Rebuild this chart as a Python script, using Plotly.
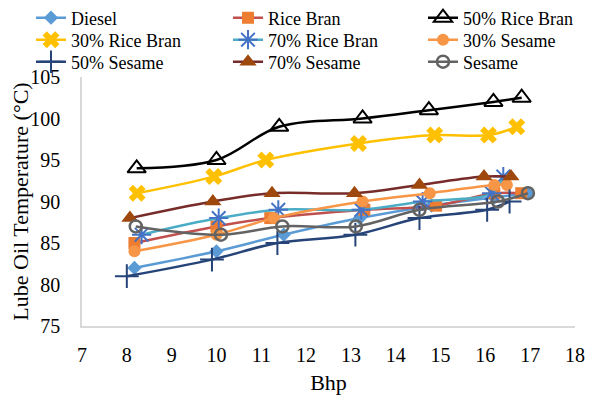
import plotly.graph_objects as go

names = ["Diesel", "Rice Bran", "50% Rice Bran", "30% Rice Bran", "70% Rice Bran",
         "30% Sesame", "50% Sesame", "70% Sesame", "Sesame"]

x_diesel = [8.17, 10.0, 11.5, 13.2, 14.8, 16.2, 16.95]
y_diesel = [82, 84, 86, 88, 89.5, 90.5, 91]

x_rb = [8.17, 10.0, 11.2, 13.3, 14.9, 16.2, 16.8]
y_rb = [85, 87, 88, 89, 89.5, 91, 91]

x_rb50 = [8.22, 10.0, 11.4, 13.26, 14.74, 16.18, 16.81]
y_rb50 = [94, 95, 99, 100, 101, 102, 102.5]

x_rb30 = [8.23, 9.94, 11.1, 13.17, 14.87, 16.07, 16.7]
y_rb30 = [91, 93, 95, 97, 98, 98, 99]

x_rb70 = [8.33, 10.05, 11.38, 13.23, 14.6, 16.14, 16.4]
y_rb70 = [86, 88, 89, 89, 90, 91, 93]

x_s30 = [8.17, 10.0, 11.28, 13.26, 14.76, 16.2, 16.48]
y_s30 = [84, 86, 88, 90, 91, 92, 92]

x_s50 = [8.0, 9.9, 11.36, 13.1, 14.53, 16.04, 16.54]
y_s50 = [81, 83, 85, 86, 88, 89, 90]

x_s70 = [8.07, 9.92, 11.24, 13.08, 14.53, 15.97, 16.57]
y_s70 = [88, 90, 91, 91, 92, 93, 93]

x_ses = [8.2, 10.1, 11.47, 13.11, 14.53, 16.28, 16.95]
y_ses = [87, 86, 87, 87, 89, 90, 91]

xs = [x_diesel, x_rb, x_rb50, x_rb30, x_rb70, x_s30, x_s50, x_s70, x_ses]
ys = [y_diesel, y_rb, y_rb50, y_rb30, y_rb70, y_s30, y_s50, y_s70, y_ses]

x_ticks = list(range(7, 19))
y_ticks = list(range(75, 106, 5))

styles = [
    dict(line="#5B9BD5", marker=dict(symbol="diamond", size=11, color="#5B9BD5")),
    dict(line="#C0504D", marker=dict(symbol="square", size=12, color="#ED7D31")),
    dict(line="#000000", marker=dict(symbol="triangle-up-open", size=16, color="#000000", line=dict(width=2, color="#000000"))),
    dict(line="#FFC000", marker=dict(symbol="x", size=15, color="#FFC000")),
    dict(line="#4BACC6", marker=dict(symbol="asterisk-open", size=16, color="#4472C4", line=dict(width=2, color="#4472C4"))),
    dict(line="#F79646", marker=dict(symbol="circle", size=12, color="#F79646")),
    dict(line="#264478", marker=dict(symbol="cross-thin-open", size=17, color="#264478", line=dict(width=2, color="#2E5B9A"))),
    dict(line="#772C2A", marker=dict(symbol="triangle-up", size=15, color="#9E480E")),
    dict(line="#636363", marker=dict(symbol="circle-open", size=12, color="#636363", line=dict(width=2.5, color="#636363"))),
]

font = "Times New Roman, Liberation Serif, serif"

# figure is drawn inside the page body (8px default margin), so it is 8px smaller
W, H = 588, 392
L, R, T, B = 74, 21, 69, 74
pw, ph = W - L - R, H - T - B

fig = go.Figure()
legend_layouts = {}
col_left = [23, 220, 415]
row_mid = [10, 32, 54]
for i, (n, x, y, s) in enumerate(zip(names, xs, ys, styles)):
    key = "legend" if i == 0 else f"legend{i + 1}"
    fig.add_trace(go.Scatter(x=x, y=y, name=n, mode="lines+markers", legend=key,
                             line=dict(color=s["line"], width=2.5, shape="spline", smoothing=1.0),
                             marker=s["marker"]))
    legend_layouts[key] = dict(
        x=(col_left[i % 3] - L) / pw, y=(H - B - row_mid[i // 3]) / ph,
        xanchor="left", yanchor="middle", orientation="v",
        font=dict(family=font, size=18, color="#000000"), bgcolor="rgba(0,0,0,0)")

fig.update_layout(
    width=W, height=H,
    margin=dict(l=L, r=R, t=T, b=B, autoexpand=False),
    plot_bgcolor="white", paper_bgcolor="white",
    font=dict(family=font, size=20, color="#000000"),
    showlegend=True,
    **legend_layouts,
    xaxis=dict(range=[7, 18], tickvals=x_ticks, ticktext=[str(v) for v in x_ticks],
               showgrid=False, zeroline=False, showline=True, linecolor="#D9D9D9", linewidth=1.5,
               ticks="", ticklabelstandoff=10, automargin=False,
               title=dict(text="Bhp", font=dict(size=22), standoff=10),
               tickfont=dict(size=20)),
    yaxis=dict(range=[75, 105], tickvals=y_ticks, ticktext=[str(v) for v in y_ticks],
               showgrid=False, zeroline=False, showline=True, linecolor="#D9D9D9", linewidth=1.5,
               ticks="", ticklabelstandoff=16, automargin=False,
               title=dict(text="Lube Oil Temperature (°C)", font=dict(size=22), standoff=2),
               tickfont=dict(size=20)),
)

fig.write_html("out.html")
